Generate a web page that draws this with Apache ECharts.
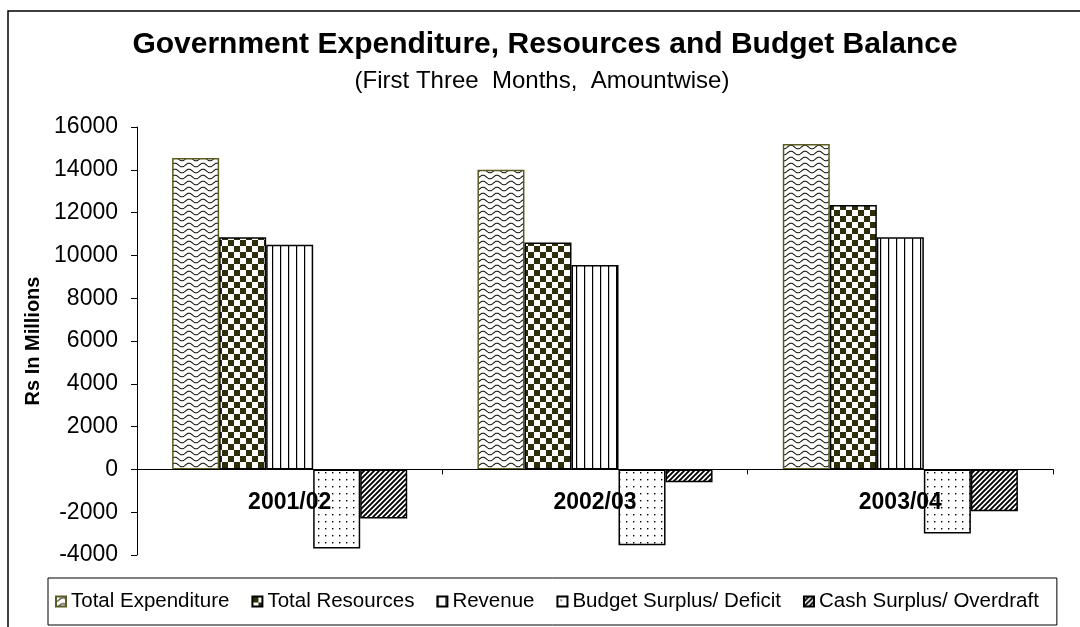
<!DOCTYPE html>
<html><head><meta charset="utf-8">
<script src="https://cdn.jsdelivr.net/npm/echarts@6/dist/echarts.min.js"></script>
<style>html,body{margin:0;padding:0;background:#fff}#c{width:1080px;height:627px}</style>
</head><body><div id="c"></div>
<script>
// ---- data ----
const categories = ['2001/02', '2002/03', '2003/04'];
const totalExpenditure = [14550, 14000, 15200];
const totalResources = [10850, 10600, 12350];
const revenue = [10500, 9550, 10850];
const budgetSurplus = [-3700, -3550, -3000];
const cashSurplus = [-2300, -600, -1950];
const seriesNames = ['Total Expenditure', 'Total Resources', 'Revenue', 'Budget Surplus/ Deficit', 'Cash Surplus/ Overdraft'];
const yMin = -4000, yMax = 16000, yStep = 2000;

const FONT = "'Liberation Sans', Arial, sans-serif";

// ---- layout ----
const GRID = { left: 137, right: 27, top: 127, bottom: 72 };
const plotH = 627 - GRID.top - GRID.bottom;
// shift the category axis up so it sits on the zero line of the value scale
const zeroOffset = -plotH * (0 - yMin) / (yMax - yMin);

// ---- fill patterns ----
function tile(w, h, draw) {
  const c = document.createElement('canvas');
  c.width = w; c.height = h;
  const g = c.getContext('2d');
  g.fillStyle = '#fff'; g.fillRect(0, 0, w, h);
  draw(g, w, h);
  return { image: c, repeat: 'repeat' };
}
const wavePat = tile(14, 6, (g, w, h) => {
  g.strokeStyle = '#1a1a10'; g.lineWidth = 1.1;
  g.beginPath();
  for (let x = 0; x <= w; x += 0.5) {
    const y = 3 + 1.8 * Math.cos(2 * Math.PI * x / w);
    if (x === 0) g.moveTo(x, y); else g.lineTo(x, y);
  }
  g.stroke();
});
const checkPat = tile(12, 12, (g) => {
  g.fillStyle = '#2e2e0a';
  g.fillRect(0, 0, 6, 6); g.fillRect(6, 6, 6, 6);
});
const vlinePat = tile(8, 4, (g) => {
  g.fillStyle = '#000'; g.fillRect(0, 0, 1.2, 4);
});
const dotPat = tile(7, 7, (g) => {
  g.fillStyle = '#000'; g.fillRect(3, 3, 1.4, 1.4);
});
const diagPat = tile(5, 5, (g) => {
  g.strokeStyle = '#000'; g.lineWidth = 1.9;
  g.beginPath();
  g.moveTo(-1, 6); g.lineTo(6, -1);
  g.moveTo(-1, 1); g.lineTo(1, -1);
  g.moveTo(4, 6); g.lineTo(6, 4);
  g.stroke();
});

const seriesData = [totalExpenditure, totalResources, revenue, budgetSurplus, cashSurplus];
const fills = [wavePat, checkPat, vlinePat, dotPat, diagPat];
const borders = ['#5c5c22', '#000', '#000', '#000', '#000'];

const chart = echarts.init(document.getElementById('c'), null, { renderer: 'canvas' });
chart.setOption({
  animation: false,
  backgroundColor: '#fff',
  title: [
    { text: 'Government Expenditure, Resources and Budget Balance', left: 545, top: 30, textAlign: 'center', padding: 0,
      textStyle: { fontFamily: FONT, fontSize: 30, fontWeight: 'bold', color: '#000' } },
    { text: '(First Three  Months,  Amountwise)', left: 542, top: 69, textAlign: 'center', padding: 0,
      textStyle: { fontFamily: FONT, fontSize: 24, fontWeight: 'normal', color: '#000' } }
  ],
  graphic: [
    { type: 'rect', shape: { x: 8, y: 11, width: 1200, height: 800 }, style: { fill: 'none', stroke: '#000', lineWidth: 1.5 }, silent: true, z: -1 }
  ],
  grid: Object.assign({ containLabel: false }, GRID),
  legend: {
    left: 48, top: 578, orient: 'horizontal',
    icon: 'rect',
    itemWidth: 10, itemHeight: 10, itemGap: 22,
    padding: [13, 18, 13, 7],
    borderColor: '#000', borderWidth: 1,
    textStyle: { fontFamily: FONT, fontSize: 20.5, color: '#000' },
    data: seriesNames
  },
  xAxis: {
    type: 'category', data: categories, z: 10,
    offset: zeroOffset,
    axisLine: { onZero: false, lineStyle: { color: '#000', width: 1 } },
    axisTick: { show: true, length: 5, alignWithLabel: false, interval: 0, lineStyle: { color: '#000' } },
    axisLabel: { fontFamily: FONT, fontSize: 23, fontWeight: 'bold', color: '#000', margin: 22, interval: 0 },
    splitLine: { show: false }
  },
  yAxis: {
    type: 'value', min: yMin, max: yMax, interval: yStep,
    name: 'Rs In Millions', nameLocation: 'middle', nameGap: 82, nameRotate: 90,
    nameTextStyle: { fontFamily: FONT, fontSize: 20, fontWeight: 'bold', color: '#000' },
    axisLine: { show: true, lineStyle: { color: '#000', width: 1 } },
    axisTick: { show: true, length: 6, inside: false, lineStyle: { color: '#000' } },
    axisLabel: { fontFamily: FONT, fontSize: 23, color: '#000', margin: 19, formatter: (v) => String(v) },
    splitLine: { show: false }
  },
  series: seriesNames.map((name, i) => ({
    name, type: 'bar', data: seriesData[i],
    barGap: '0%', barCategoryGap: '23%',
    itemStyle: { color: fills[i], borderColor: borders[i], borderWidth: 1.5 },
    emphasis: { disabled: true }
  }))
});
</script>
</body></html>
